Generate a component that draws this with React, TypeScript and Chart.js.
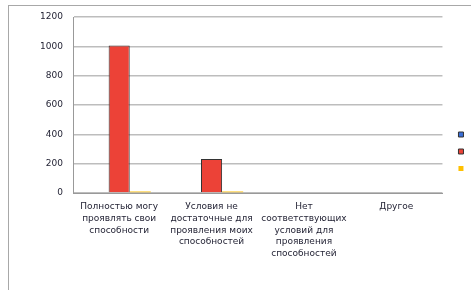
import React, { useEffect, useRef } from "react";
import { Chart, registerables } from "chart.js";

Chart.register(...registerables);

const categories: string[][] = [
  ["Полностью могу", "проявлять свои", "способности"],
  ["Условия не", "достаточные для", "проявления моих", "способностей"],
  ["Нет", "соответствующих", "условий для", "проявления", "способностей"],
  ["Другое"],
];
const seriesBlue = [0, 0, 0, 0];
const seriesRed = [1005, 232, 0, 0];
const seriesYellow = [10, 10, 0, 0];
const yTicks = [0, 200, 400, 600, 800, 1000, 1200];

const FONT = "DejaVu Sans";

const legendShift = {
  id: "legendShift",
  afterLayout(chart: any) {
    const lg = chart.legend;
    if (!lg) return;
    const w = lg.right - lg.left;
    lg.left = chart.chartArea.right + 7;
    lg.right = lg.left + w;
    lg.top -= 2;
    lg.bottom -= 2;
  },
};

export default function App() {
  const ref = useRef<HTMLCanvasElement>(null);
  useEffect(() => {
    document.body.style.margin = "0";
    const ctx = ref.current!;
    const chart = new Chart(ctx, {
      type: "bar",
      data: {
        labels: categories,
        datasets: [
          { label: " ", data: seriesBlue, backgroundColor: "#3a6fd8", borderColor: "#333333", borderWidth: 1 },
          { label: " ", data: seriesRed, backgroundColor: "#ec4237", borderColor: "#333333", borderWidth: 1 },
          { label: " ", data: seriesYellow, backgroundColor: "#ffc000", borderColor: "#ffc000", borderWidth: 0 },
        ],
      },
      plugins: [legendShift],
      options: {
        animation: false,
        responsive: false,
        layout: { padding: { top: 17, left: 0, right: -2, bottom: 0 } },
        datasets: { bar: { categoryPercentage: 0.685, barPercentage: 1 } },
        plugins: {
          legend: {
            position: "right",
            labels: {
              boxWidth: 5,
              boxHeight: 5,
              padding: 9,
              font: { size: 8, family: FONT },
            },
          },
          tooltip: { enabled: false },
        },
        scales: {
          x: {
            grid: { display: false, drawTicks: false },
            border: { color: "#999999", width: 1 },
            ticks: {
              maxRotation: 0,
              autoSkip: false,
              padding: 8,
              color: "#1e1e30",
              font: { size: 9, family: FONT, lineHeight: 1.3 },
            },
            afterFit: (s: any) => { s.height = 97; },
          },
          y: {
            min: 0,
            max: 1200,
            afterBuildTicks: (s: any) => { s.ticks = yTicks.map((v) => ({ value: v })); },
            grid: { color: "#bdbdbd", lineWidth: 1.5, drawTicks: false },
            border: { color: "#999999", width: 1 },
            ticks: {
              padding: 10,
              color: "#1e1e30",
              font: { size: 9, family: FONT },
              callback: (v: any) => String(v),
            },
            afterFit: (s: any) => { s.width = 73; },
          },
        },
      },
    });
    return () => chart.destroy();
  }, []);
  return (
    <div style={{ position: "relative", width: 471, height: 290 }}>
      <div
        style={{
          position: "absolute",
          left: 8,
          top: 5,
          width: 463,
          height: 285,
          borderLeft: "1px solid #a8a8a8",
          borderTop: "1px solid #a8a8a8",
          boxSizing: "border-box",
        }}
      />
      <canvas ref={ref} width={471} height={290} style={{ position: "absolute", left: 0, top: 0 }} />
    </div>
  );
}
